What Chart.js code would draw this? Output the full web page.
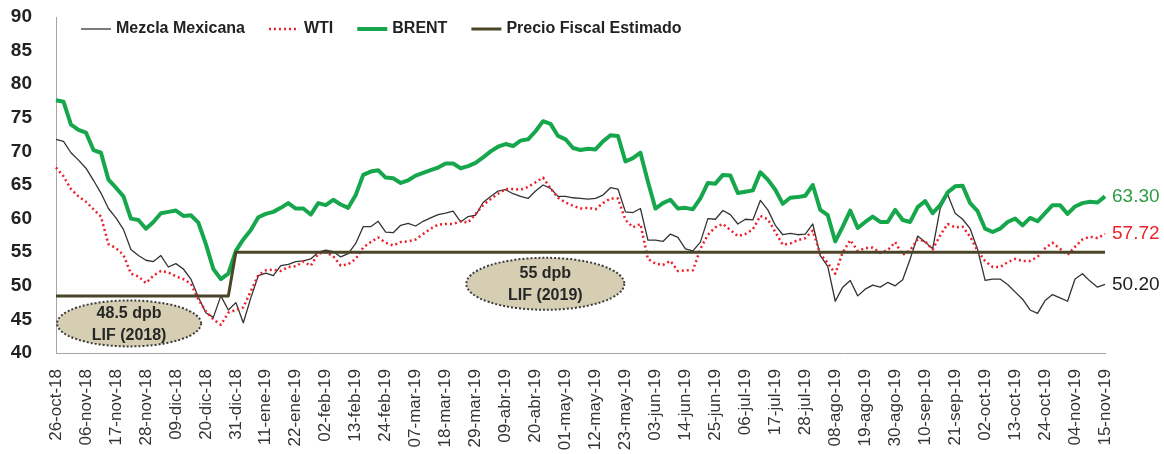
<!DOCTYPE html>
<html lang="es">
<head>
<meta charset="utf-8">
<title>Precios del petróleo</title>
<script src="https://cdn.jsdelivr.net/npm/chart.js@4.4.1/dist/chart.umd.min.js"></script>
<style>
    html, body { margin: 0; padding: 0; background: #fff; }
    .caja { position: relative; width: 1164px; height: 454px; }
</style>
</head>
<body>
<div class="caja"><canvas id="grafico"></canvas></div>
<script>
// ==========================================
// Mezcla Mexicana, WTI y BRENT vs precio fiscal
// =========================================

const fechas = ["26-oct-18", "06-nov-18", "17-nov-18", "28-nov-18", "09-dic-18", "20-dic-18",
                "31-dic-18", "11-ene-19", "22-ene-19", "02-feb-19", "13-feb-19", "24-feb-19",
                "07-mar-19", "18-mar-19", "29-mar-19", "09-abr-19", "20-abr-19", "01-may-19",
                "12-may-19", "23-may-19", "03-jun-19", "14-jun-19", "25-jun-19", "06-jul-19",
                "17-jul-19", "28-jul-19", "08-ago-19", "19-ago-19", "30-ago-19", "10-sep-19",
                "21-sep-19", "02-oct-19", "13-oct-19", "24-oct-19", "04-nov-19", "15-nov-19"];

// cuatro observaciones entre cada fecha del eje
const porTramo = 4;

const mezcla = [
    71.8, 71.5, 69.8, 68.7, 67.5, 65.7, 63.8, 61.5, 60.1, 58.4, 55.4, 54.5,
    53.8, 53.6, 54.5, 52.8, 53.3, 52.5, 51.0, 48.3, 46.0, 45.3, 48.5, 46.4,
    47.5, 44.5, 48.2, 51.5, 51.9, 51.5, 53.0, 53.2, 53.6, 53.7, 54.0, 55.0,
    55.3, 55.1, 54.3, 54.8, 56.3, 58.8, 58.8, 59.6, 58.0, 57.9, 59.0, 59.3,
    58.9, 59.6, 60.1, 60.6, 60.8, 61.1, 59.5, 60.3, 60.5, 62.4, 63.3, 64.1,
    64.3, 63.7, 63.3, 63.0, 64.1, 65.0, 64.5, 63.3, 63.3, 63.1, 63.0, 62.9,
    63.0, 63.5, 64.6, 64.4, 61.0, 60.9, 61.5, 56.8, 56.8, 56.6, 57.7, 57.2,
    55.5, 55.2, 56.5, 60.0, 59.9, 61.2, 60.6, 59.2, 59.9, 59.8, 62.7, 61.3,
    59.0, 57.6, 57.8, 57.6, 57.7, 59.2, 54.5, 52.9, 47.7, 49.8, 50.8, 48.5,
    49.5, 50.1, 49.8, 50.5, 50.0, 50.9, 54.0, 57.4, 56.5, 55.5, 61.5, 63.6,
    60.8, 59.9, 58.5, 55.4, 50.8, 51.0, 51.0, 50.2, 49.1, 48.0, 46.4, 45.9,
    47.8, 48.7, 48.2, 47.7, 51.0, 51.8, 50.7, 49.8, 50.2
];

const wti = [
    67.6, 66.3, 64.4, 63.3, 62.5, 61.4, 60.3, 56.2, 55.6, 54.6, 51.8, 51.4,
    50.4, 51.5, 52.2, 52.0, 51.4, 51.0, 50.3, 48.0, 46.2, 45.0, 44.2, 46.0,
    46.4, 46.8, 49.2, 51.6, 52.3, 52.4, 52.2, 52.8, 52.9, 53.6, 53.0, 54.8,
    55.0, 54.4, 53.0, 53.2, 54.0, 55.7, 56.5, 57.2, 56.4, 56.0, 56.5, 56.6,
    56.9, 57.7, 58.5, 59.1, 59.2, 59.2, 59.6, 59.4, 60.7, 62.0, 62.9, 63.7,
    64.4, 64.4, 64.3, 64.7, 65.4, 66.1, 64.5, 63.1, 62.4, 61.9, 61.5, 61.6,
    61.4, 62.3, 63.0, 63.0, 59.8, 58.7, 59.2, 54.0, 53.3, 53.1, 53.7, 52.2,
    52.3, 52.3, 55.5, 57.6, 58.7, 59.2, 58.3, 57.4, 57.7, 58.4, 60.4, 59.9,
    58.0, 56.1, 56.3, 56.8, 57.1, 58.2, 54.7, 53.4, 51.8, 55.0, 56.8, 55.2,
    55.6, 55.7, 54.9, 55.3, 56.5, 54.6, 55.3, 56.9, 56.6, 55.4, 57.5, 59.2,
    58.7, 58.8, 57.3, 55.2, 53.7, 52.8, 52.8, 53.5, 54.0, 53.7, 53.7, 54.3,
    55.6, 56.4, 55.5, 54.6, 55.8, 56.9, 57.3, 57.1, 57.72
];

const brent = [
    77.6, 77.4, 74.0, 73.2, 72.8, 70.2, 69.8, 65.8, 64.6, 63.3, 60.0, 59.8,
    58.5, 59.5, 60.8, 61.0, 61.2, 60.4, 60.5, 59.4, 56.2, 52.5, 51.0, 51.8,
    55.2, 56.9, 58.3, 60.2, 60.7, 61.0, 61.6, 62.3, 61.5, 61.5, 60.6, 62.3,
    62.0, 62.8, 62.1, 61.6, 63.5, 66.5, 67.0, 67.2, 66.1, 66.0, 65.3, 65.7,
    66.4, 66.8, 67.2, 67.6, 68.2, 68.2, 67.5, 67.8, 68.3, 69.1, 70.0, 70.7,
    71.1, 70.8, 71.6, 71.8, 73.0, 74.5, 74.1, 72.3, 71.8, 70.5, 70.2, 70.4,
    70.3, 71.5, 72.4, 72.3, 68.5, 69.0, 69.8, 65.5, 61.5, 62.3, 62.8, 61.5,
    61.6, 61.4, 63.0, 65.3, 65.2, 66.5, 66.4, 63.8, 64.0, 64.2, 66.9, 65.8,
    64.3, 62.2, 63.1, 63.2, 63.4, 65.0, 61.3, 60.5, 56.6, 58.8, 61.2, 58.6,
    59.5, 60.3, 59.5, 59.5, 61.3, 59.8, 59.5, 61.7, 62.6, 60.8, 62.0, 63.9,
    64.8, 64.9, 62.3, 61.1, 58.5, 58.0, 58.5, 59.5, 60.0, 59.0, 60.1, 59.6,
    60.8, 62.0, 62.0, 60.7, 61.8, 62.3, 62.5, 62.4, 63.3
];

const fiscal = [
    48.5, 48.5, 48.5, 48.5, 48.5, 48.5, 48.5, 48.5, 48.5, 48.5, 48.5, 48.5,
    48.5, 48.5, 48.5, 48.5, 48.5, 48.5, 48.5, 48.5, 48.5, 48.5, 48.5, 48.5,
    55, 55, 55, 55, 55, 55, 55, 55, 55, 55, 55, 55, 55,
    55, 55, 55, 55, 55, 55, 55, 55, 55, 55, 55, 55, 55,
    55, 55, 55, 55, 55, 55, 55, 55, 55, 55, 55, 55, 55,
    55, 55, 55, 55, 55, 55, 55, 55, 55, 55, 55, 55, 55,
    55, 55, 55, 55, 55, 55, 55, 55, 55, 55, 55, 55, 55,
    55, 55, 55, 55, 55, 55, 55, 55, 55, 55, 55, 55, 55,
    55, 55, 55, 55, 55, 55, 55, 55, 55, 55, 55, 55, 55,
    55, 55, 55, 55, 55, 55, 55, 55, 55, 55, 55, 55, 55,
    55, 55, 55, 55, 55, 55, 55, 55, 55, 55, 55, 55, 55
];

const yTicks = [40, 45, 50, 55, 60, 65, 70, 75, 80, 85, 90];

// globos de texto: posición en unidades del gráfico (índice, precio)
const notas = [
    { i: 9.75, v: 44.4, rx: 72, ry: 23, texto: ["48.5 dpb", "LIF (2018)"] },
    { i: 65.3, v: 50.3, rx: 79, ry: 26, texto: ["55 dpb", "LIF (2019)"] }
];

// etiquetas del eje: solo cada cuarta observación lleva fecha
const etiquetas = mezcla.map((_, k) => k % porTramo === 0 ? fechas[k / porTramo] : "");

const FUENTE = "'Liberation Sans', Arial, sans-serif";
Chart.defaults.font.family = FUENTE;

const leyenda = {
    id: "leyenda",
    afterDraw(chart) {
        const ctx = chart.ctx, ca = chart.chartArea;
        let x = ca.left + 25;
        const y = ca.top + 12;
        ctx.save();
        ctx.font = `bold 16px ${FUENTE}`;
        ctx.textBaseline = "middle";
        chart.data.datasets.forEach(ds => {
            ctx.beginPath();
            ctx.strokeStyle = ds.borderColor;
            ctx.lineWidth = ds.borderWidth;
            ctx.setLineDash(ds.borderDash || []);
            ctx.moveTo(x, y);
            ctx.lineTo(x + 30, y);
            ctx.stroke();
            ctx.setLineDash([]);
            ctx.fillStyle = "#222";
            ctx.fillText(ds.label, x + 35, y);
            x += 35 + ctx.measureText(ds.label).width + 24;
        });
        ctx.restore();
    }
};

const globos = {
    id: "globos",
    afterDatasetsDraw(chart) {
        const ctx = chart.ctx;
        const sx = chart.scales.x, sy = chart.scales.y;
        ctx.save();
        notas.forEach(n => {
            const cx = sx.getPixelForValue(n.i), cy = sy.getPixelForValue(n.v);
            ctx.beginPath();
            ctx.ellipse(cx, cy, n.rx, n.ry, 0, 0, Math.PI * 2);
            ctx.fillStyle = "#d5ceb2";
            ctx.fill();
            ctx.setLineDash([2, 2]);
            ctx.lineWidth = 2;
            ctx.strokeStyle = "#3c3c3c";
            ctx.stroke();
            ctx.setLineDash([]);
            ctx.fillStyle = "#262626";
            ctx.font = `bold 16px ${FUENTE}`;
            ctx.textAlign = "center";
            ctx.textBaseline = "middle";
            ctx.fillText(n.texto[0], cx, cy - 10);
            ctx.fillText(n.texto[1], cx, cy + 12);
        });
        ctx.restore();
    }
};

const finales = {
    id: "finales",
    afterDatasetsDraw(chart) {
        const ctx = chart.ctx;
        ctx.save();
        ctx.font = `19px ${FUENTE}`;
        ctx.textBaseline = "middle";
        chart.data.datasets.forEach((ds, i) => {
            if (!ds.valorFinal) return;
            const pts = chart.getDatasetMeta(i).data;
            const p = pts[pts.length - 1];
            const val = ds.data[ds.data.length - 1];
            ctx.fillStyle = ds.valorFinal;
            ctx.fillText(val.toFixed(2), p.x + 7, p.y);
        });
        ctx.restore();
    }
};

new Chart(document.getElementById("grafico"), {
    type: "line",
    data: {
        labels: etiquetas,
        datasets: [
            { label: "Mezcla Mexicana", data: mezcla, borderColor: "#333333", borderWidth: 1.3,
              order: 4, valorFinal: "#222222" },
            { label: "WTI", data: wti, borderColor: "#ee1f2a", borderWidth: 2.5, borderDash: [2, 3],
              order: 3, valorFinal: "#e8242e" },
            { label: "BRENT", data: brent, borderColor: "#16a64c", borderWidth: 4,
              order: 2, valorFinal: "#2f9c45" },
            { label: "Precio Fiscal Estimado", data: fiscal, borderColor: "#4a4529", borderWidth: 3,
              order: 1 }
        ]
    },
    options: {
        responsive: true, maintainAspectRatio: false, animation: false,
        elements: { point: { radius: 0 }, line: { tension: 0, borderJoinStyle: "round" } },
        layout: { padding: { top: 17, right: 59, bottom: 0, left: 0 } },
        plugins: { legend: { display: false }, tooltip: { enabled: false } },
        scales: {
            x: {
                grid: { display: false },
                border: { display: true, color: "#a6a6a6", width: 1 },
                ticks: { autoSkip: false, minRotation: 90, maxRotation: 90, padding: 8,
                         color: "#333", font: { size: 17 } },
                afterFit: s => { s.height = 101; }
            },
            y: {
                min: 40, max: 90,
                grid: { display: false },
                border: { display: true, color: "#a6a6a6", width: 1 },
                afterBuildTicks: s => { s.ticks = yTicks.map(v => ({ value: v })); },
                ticks: { padding: 16, color: "#222", font: { size: 19, weight: "bold" } },
                afterFit: s => { s.width = 56; s.paddingTop = 0; s.paddingBottom = 0; }
            }
        }
    },
    plugins: [leyenda, globos, finales]
});
</script>
</body>
</html>
